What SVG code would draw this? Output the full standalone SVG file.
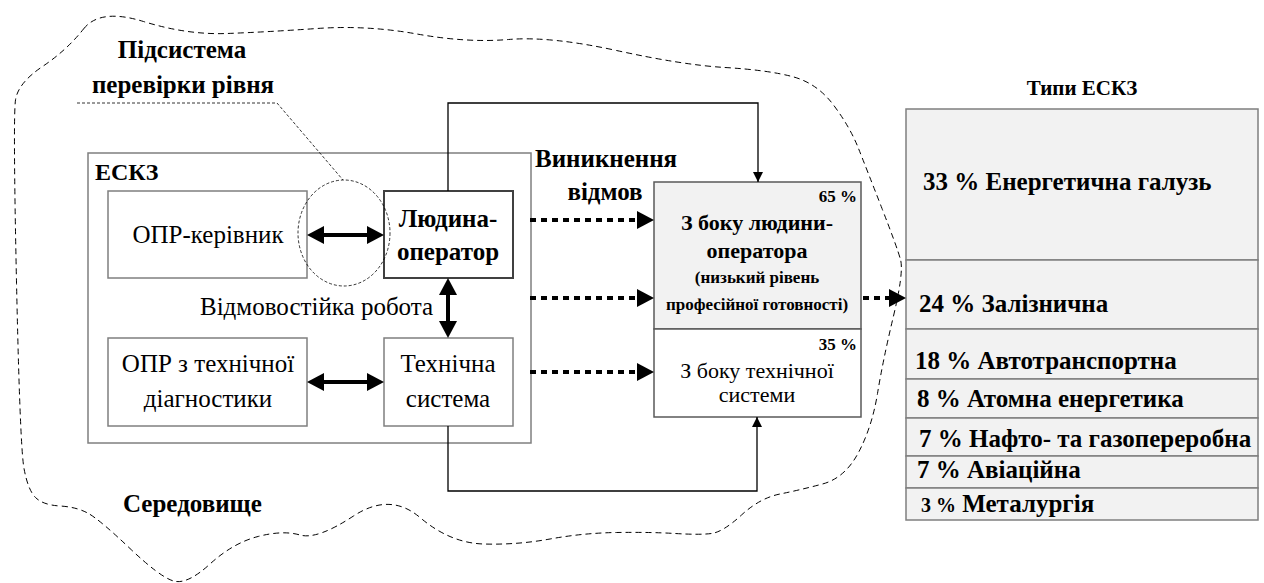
<svg xmlns="http://www.w3.org/2000/svg" width="1264" height="583" viewBox="0 0 1264 583" font-family="Liberation Serif">
<style>
text{fill:#000;font-family:'Liberation Serif',serif}
.b{font-weight:bold}
.box{fill:#fff;stroke:#7f7f7f;stroke-width:1.5}
.thin{fill:none;stroke:#000;stroke-width:1.3}
.dbl{fill:none;stroke:#000;stroke-width:4}
.dot{fill:none;stroke:#000;stroke-width:4;stroke-dasharray:6 5}
.blob{fill:none;stroke:#000;stroke-width:1;stroke-dasharray:6 4}
.fine{fill:none;stroke:#000;stroke-width:0.8;stroke-dasharray:3 2}
.row{fill:#f2f2f2;stroke:#7f7f7f;stroke-width:1.5}
</style>
<defs>
<marker id="big" markerUnits="userSpaceOnUse" markerWidth="17" markerHeight="18" refX="12" refY="9" orient="auto-start-reverse" viewBox="0 0 17 18"><path d="M0,0 L17,9 L0,18 z" fill="#000"/></marker>
<marker id="sm" markerUnits="userSpaceOnUse" markerWidth="10" markerHeight="10" refX="10" refY="5" orient="auto" viewBox="0 0 10 10"><path d="M0,0 L10,5 L0,10 z" fill="#000"/></marker>
</defs>
<rect width="1264" height="583" fill="#fff"/>

<g id="environment">
<path class="blob" d="M83.5,29 Q100,8 143.5,21.5 Q187,35 227,33.5 Q267,32 317,28.5 Q367,25 417,34 Q467,43 508.5,39.5 Q550,36 616.5,50.5 Q683,65 725,67.5 Q767,70 792,76.5 Q817,83 833.5,105 Q850,127 858.5,148.5 Q867,170 882,208.5 Q897,247 900.5,259.5 Q904,272 893.5,316 Q883,360 877.5,393.5 Q872,427 858.5,452.5 Q845,478 822.5,484 Q800,490 780,494 Q760,498 741.5,515 Q723,532 711.5,533.5 Q700,535 675,533.5 Q650,532 616.5,532.5 Q583,533 550,539 Q517,545 483.5,544 Q450,543 420,517.5 Q390,492 353.5,516 Q317,540 300,535 Q283,530 258,536.5 Q233,543 210,564 Q187,585 173.5,581 Q160,577 130,548.5 Q100,520 88.5,513.5 Q77,507 60,506 Q43,505 35.5,497.5 Q28,490 24,468.5 Q20,447 16.5,282 Q13,117 15.5,100 Q18,83 42.5,66.5 Q67,50 83.5,29 Z"/>
<text class="b" x="123" y="512" font-size="25">Середовище</text>
</g>

<g id="eskz">
<rect x="88" y="153" width="443" height="290" fill="none" stroke="#7f7f7f" stroke-width="1.5"/>
<text class="b" x="95" y="180" font-size="24">ЕСКЗ</text>
</g>

<g id="opr-kerivnyk">
<rect class="box" x="108" y="191" width="199" height="87"/>
<text x="208" y="243" font-size="25" text-anchor="middle">ОПР-керівник</text>
</g>

<g id="lyudyna-operator">
<rect x="384" y="191" width="129" height="87" fill="#fff" stroke="#404040" stroke-width="2"/>
<text class="b" x="448" y="227" font-size="25" text-anchor="middle">Людина-</text>
<text class="b" x="448" y="260" font-size="25" text-anchor="middle">оператор</text>
</g>

<g id="opr-diagnostics">
<rect class="box" x="108" y="338" width="199" height="88"/>
<text x="208" y="372" font-size="25" text-anchor="middle">ОПР з технічної</text>
<text x="208" y="407" font-size="25" text-anchor="middle">діагностики</text>
</g>

<g id="tech-system">
<rect class="box" x="384" y="338" width="129" height="88"/>
<text x="448" y="372" font-size="25" text-anchor="middle">Технічна</text>
<text x="448" y="407" font-size="25" text-anchor="middle">система</text>
</g>

<g id="subsystem-label">
<text class="b" x="182" y="58" font-size="25" text-anchor="middle">Підсистема</text>
<text class="b" x="183" y="93" font-size="25" text-anchor="middle">перевірки рівня</text>
<path class="fine" d="M77,103 H277 L343,180"/>
<ellipse class="fine" cx="344" cy="233" rx="46" ry="53"/>
</g>

<g id="fault-tolerance-label">
<text x="200" y="315" font-size="25">Відмовостійка робота</text>
</g>

<g id="failures-label">
<text class="b" x="535" y="167" font-size="25">Виникнення</text>
<text class="b" x="605" y="200" font-size="25" text-anchor="middle">відмов</text>
</g>

<g id="failure-human">
<rect x="654" y="182" width="207" height="147" fill="#f2f2f2" stroke="#595959" stroke-width="1.5"/>
<text class="b" x="857" y="202" font-size="17" text-anchor="end">65 %</text>
<text class="b" x="757" y="230" font-size="22" text-anchor="middle">З боку людини-</text>
<text class="b" x="757" y="258" font-size="22" text-anchor="middle">оператора</text>
<text class="b" x="757" y="283" font-size="17" text-anchor="middle">(низький рівень</text>
<text class="b" x="757" y="310" font-size="17" text-anchor="middle">професійної готовності)</text>
</g>

<g id="failure-tech">
<rect x="654" y="329" width="207" height="88" fill="#fff" stroke="#595959" stroke-width="1.5"/>
<text class="b" x="857" y="350" font-size="17" text-anchor="end">35 %</text>
<text x="757" y="378" font-size="22" text-anchor="middle">З боку технічної</text>
<text x="757" y="402" font-size="22" text-anchor="middle">системи</text>
</g>

<g id="eskz-types">
<text class="b" x="1082" y="95" font-size="21" text-anchor="middle">Типи ЕСКЗ</text>
<rect class="row" x="906" y="109" width="352" height="151"/>
<rect class="row" x="906" y="260" width="352" height="69"/>
<rect class="row" x="906" y="329" width="352" height="50"/>
<rect class="row" x="906" y="379" width="352" height="39"/>
<rect class="row" x="906" y="418" width="352" height="38"/>
<rect class="row" x="906" y="456" width="352" height="32"/>
<rect class="row" x="906" y="488" width="352" height="32"/>
<text class="b" x="923" y="190" font-size="25">33 % Енергетична галузь</text>
<text class="b" x="919" y="312" font-size="25">24 % Залізнична</text>
<text class="b" x="915" y="369" font-size="25">18 % Автотранспортна</text>
<text class="b" x="917" y="407" font-size="25">8 % Атомна енергетика</text>
<text class="b" x="919" y="447" font-size="25">7 % Нафто- та газопереробна</text>
<text class="b" x="917" y="478" font-size="25">7 % Авіаційна</text>
<text class="b" x="921" y="512" font-size="25"><tspan font-size="20">3 %</tspan> Металургія</text>
</g>

<g id="connectors">
<path class="dbl" d="M312,235 H379" marker-start="url(#big)" marker-end="url(#big)"/>
<path class="dbl" d="M312,382 H379" marker-start="url(#big)" marker-end="url(#big)"/>
<path class="dbl" d="M448,283 V333" marker-start="url(#big)" marker-end="url(#big)"/>
<path class="dot" d="M530,220 H649" marker-end="url(#big)"/>
<path class="dot" d="M530,298 H649" marker-end="url(#big)"/>
<path class="dot" d="M530,372 H649" marker-end="url(#big)"/>
<path class="dot" d="M863,298 H901" marker-end="url(#big)"/>
<path class="thin" d="M448,191 V103 H758 V182" marker-end="url(#sm)"/>
<path class="thin" d="M448,426 V491 H757 V417" marker-end="url(#sm)"/>
</g>
</svg>
